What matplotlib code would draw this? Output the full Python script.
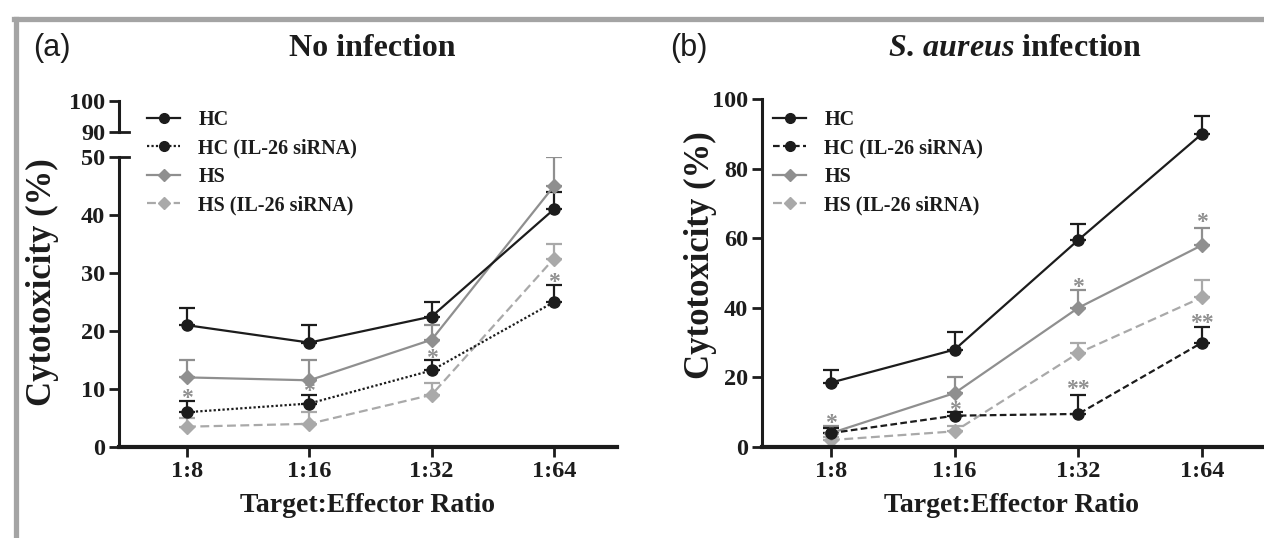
"""Cytotoxicity vs Target:Effector ratio — two panels (no infection / S. aureus)."""
import matplotlib
matplotlib.use("Agg")
import matplotlib.pyplot as plt
from matplotlib.lines import Line2D

# ---- data ----
ratios = ["1:8", "1:16", "1:32", "1:64"]
series_labels = ["HC", "HC (IL-26 siRNA)", "HS", "HS (IL-26 siRNA)"]

a_hc = [21, 18, 22.5, 41]
a_hc_err = [3, 3, 2.5, 3]
a_hc_si = [6, 7.5, 13.2, 25]
a_hc_si_err = [2, 1.5, 1.8, 3]
a_hs = [12, 11.5, 18.5, 45]
a_hs_err = [3, 3.5, 2.5, 5]
a_hs_si = [3.5, 4, 9, 32.5]
a_hs_si_err = [1.5, 2, 2, 2.5]
a_stars = [(0, 9.3, "*"), (1, 10.5, "*"), (2, 16.2, "*"), (3, 29.3, "*")]

b_hc = [18.5, 28, 59.5, 90]
b_hc_err = [3.5, 5, 4.5, 5]
b_hc_si = [4, 9, 9.5, 30]
b_hc_si_err = [1.5, 1, 5.5, 4.5]
b_hs = [4, 15.5, 40, 58]
b_hs_err = [2, 4.5, 5, 5]
b_hs_si = [2, 4.5, 27, 43]
b_hs_si_err = [1, 1.5, 3, 5]
b_stars = [(0, 8.4, "*"), (1, 12, "*"), (2, 47.4, "*"), (2, 18.2, "**"),
           (3, 66, "*"), (3, 37.1, "**")]

SERIF = "Liberation Serif"
SANS = "Liberation Sans"
BLACK = "#1c1c1c"
GRAY = "#8f8f8f"
LGRAY = "#a9a9a9"

plt.rcParams["mathtext.fontset"] = "custom"
plt.rcParams["mathtext.it"] = "Liberation Serif:italic:bold"
plt.rcParams["mathtext.rm"] = "Liberation Serif:bold"

W, H = 1264, 538
fig = plt.figure(figsize=(W / 100, H / 100), dpi=100)


def fx(px):
    return px / W


def fy(px):
    return 1 - px / H


def style_axis(ax, yticks):
    for s in ("top", "right"):
        ax.spines[s].set_visible(False)
    ax.spines["left"].set_linewidth(2.2)
    ax.spines["left"].set_color(BLACK)
    ax.spines["bottom"].set_linewidth(3)
    ax.spines["bottom"].set_color(BLACK)
    ax.set_yticks(yticks)
    ax.tick_params(axis="both", direction="out", length=7, width=2, color=BLACK,
                   labelsize=17.5, pad=3)
    for lab in ax.get_yticklabels() + ax.get_xticklabels():
        lab.set_fontfamily(SERIF)
        lab.set_fontweight("bold")
        lab.set_color(BLACK)


def draw_series(ax, x, hc, hc_e, hcsi, hcsi_e, hs, hs_e, hssi, hssi_e, hcsi_ls):
    kw = dict(capsize=6, elinewidth=1.6, capthick=1.6, markersize=8, lw=1.6)
    ax.errorbar(x, hssi, yerr=[[0] * 4, hssi_e], color=LGRAY, marker="D",
                ls=(0, (4, 2)), **{**kw, "markersize": 7}, label=series_labels[3])
    ax.errorbar(x, hs, yerr=[[0] * 4, hs_e], color=GRAY, marker="D",
                ls="-", **{**kw, "markersize": 7}, label=series_labels[2])
    ax.errorbar(x, hcsi, yerr=[[0] * 4, hcsi_e], color=BLACK, marker="o",
                ls=hcsi_ls, **kw, label=series_labels[1])
    ax.errorbar(x, hc, yerr=[[0] * 4, hc_e], color=BLACK, marker="o",
                ls="-", **kw, label=series_labels[0])


def add_stars(ax, stars):
    for xi, yi, s in stars:
        ax.annotate(s, (xi, yi), xytext=(0, -8), textcoords="offset points",
                    ha="center", va="baseline", fontsize=17, color=GRAY,
                    fontfamily=SERIF, fontweight="bold")


def add_legend(x_px, y_px, hcsi_ls):
    handles = [
        Line2D([], [], color=BLACK, marker="o", ls="-", lw=1.6, markersize=7),
        Line2D([], [], color=BLACK, marker="o", ls=hcsi_ls, lw=1.6, markersize=7),
        Line2D([], [], color=GRAY, marker="D", ls="-", lw=1.6, markersize=6),
        Line2D([], [], color=LGRAY, marker="D", ls=(0, (4, 2)), lw=1.6, markersize=6),
    ]
    leg = fig.legend(handles, series_labels, loc="upper left",
                     bbox_to_anchor=(fx(x_px), fy(y_px)), frameon=False,
                     borderpad=0, borderaxespad=0, handlelength=1.65,
                     handletextpad=0.9, labelspacing=0.42,
                     prop={"family": SERIF, "weight": "bold", "size": 14.5})
    for t in leg.get_texts():
        t.set_color(BLACK)


x = list(range(len(ratios)))

# ---- panel (a): broken y axis ----
ax_a = fig.add_axes([fx(119), fy(447), fx(617 - 119), fy(157) - fy(447)])
ax_a_top = fig.add_axes([fx(119), fy(132), fx(617 - 119), fy(101) - fy(132)])
draw_series(ax_a, x, a_hc, a_hc_err, a_hc_si, a_hc_si_err, a_hs, a_hs_err,
            a_hs_si, a_hs_si_err, (0, (1, 1)))
add_stars(ax_a, a_stars)
ax_a.set_xlim(-0.556, 3.515)
ax_a.set_ylim(0, 50)
ax_a.set_xticks(x)
ax_a.set_xticklabels(ratios)
style_axis(ax_a, [0, 10, 20, 30, 40, 50])

ax_a_top.set_xlim(-0.556, 3.515)
ax_a_top.set_ylim(90, 100)
style_axis(ax_a_top, [90, 100])
ax_a_top.spines["bottom"].set_visible(False)
ax_a_top.set_xticks([])
ax_a_top.patch.set_alpha(0)
# break marks
ax_a.plot([0, 0.02], [1, 1], transform=ax_a.transAxes, color=BLACK, lw=2,
          clip_on=False)
ax_a_top.plot([0, 0.02], [0, 0], transform=ax_a_top.transAxes, color=BLACK,
              lw=2, clip_on=False)

ax_a.set_xlabel("Target:Effector Ratio", fontfamily=SERIF, fontweight="bold",
                fontsize=20, color=BLACK, labelpad=8)
fig.text(fx(42), fy(282), "Cytotoxicity (%)", rotation=90, ha="center",
         va="center", fontfamily=SERIF, fontweight="bold", fontsize=25,
         color=BLACK)
add_legend(147, 110, (0, (1, 1)))

# ---- panel (b) ----
ax_b = fig.add_axes([fx(762), fy(447), fx(1262 - 762), fy(99) - fy(447)])
draw_series(ax_b, x, b_hc, b_hc_err, b_hc_si, b_hc_si_err, b_hs, b_hs_err,
            b_hs_si, b_hs_si_err, (0, (3, 1.5)))
add_stars(ax_b, b_stars)
ax_b.set_xlim(-0.558, 3.485)
ax_b.set_ylim(0, 100)
ax_b.set_xticks(x)
ax_b.set_xticklabels(ratios)
style_axis(ax_b, [0, 20, 40, 60, 80, 100])
ax_b.set_xlabel("Target:Effector Ratio", fontfamily=SERIF, fontweight="bold",
                fontsize=20, color=BLACK, labelpad=8)
fig.text(fx(700), fy(255), "Cytotoxicity (%)", rotation=90, ha="center",
         va="center", fontfamily=SERIF, fontweight="bold", fontsize=25,
         color=BLACK)
add_legend(773, 110, (0, (3, 1.5)))

# ---- titles & panel letters ----
fig.text(fx(33), fy(48), "(a)", ha="left", va="center", fontfamily=SANS,
         fontsize=22, color=BLACK)
fig.text(fx(670), fy(48), "(b)", ha="left", va="center", fontfamily=SANS,
         fontsize=22, color=BLACK)
fig.text(fx(372), fy(48), "No infection", ha="center", va="center",
         fontfamily=SERIF, fontweight="bold", fontsize=23, color=BLACK)
fig.text(fx(1015), fy(48), r"$\mathit{S.\,aureus}$" + " infection",
         ha="center", va="center", fontfamily=SERIF, fontweight="bold",
         fontsize=23, color=BLACK, math_fontfamily="custom")

# ---- grey frame ----
fig.add_artist(Line2D([fx(14), 1], [fy(19), fy(19)], color="#a4a4a4", lw=3.8))
fig.add_artist(Line2D([fx(16), fx(16)], [fy(19), 0], color="#a4a4a4", lw=3.8))

fig.savefig("out.png", dpi=100)
